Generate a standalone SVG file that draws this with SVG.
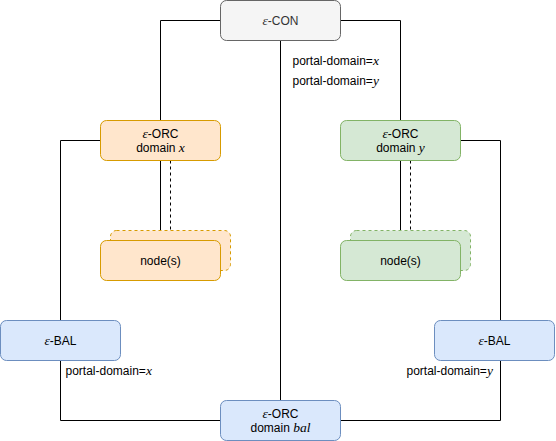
<svg xmlns="http://www.w3.org/2000/svg" width="556" height="441" viewBox="0 0 556 441">
<style>
.t{font-family:"Liberation Sans",Arial,sans-serif;font-size:12px;fill:#000}
.m{font-family:"Liberation Serif","DejaVu Serif",serif;font-style:italic;font-size:13.5px}
.c{text-anchor:middle}
.e{fill:none;stroke:#000;stroke-width:1}
.d{stroke-dasharray:3 3}
.orange{fill:#ffe6cc;stroke:#d79b00}
.green{fill:#d5e8d4;stroke:#82b366}
.blue{fill:#dae8fc;stroke:#6c8ebf}
.gray{fill:#f5f5f5;stroke:#666666}
</style>
<rect width="556" height="441" fill="#fff"/>
<g transform="translate(0.5,0.5)">
<g id="connectors">
<path class="e" d="M220 20H160V120"/>
<path class="e" d="M340 20H400V120"/>
<path class="e" d="M280 40V400"/>
<path class="e" d="M100 140H60V320"/>
<path class="e" d="M160 160V240"/>
<path class="e d" d="M170 160V230"/>
<path class="e" d="M400 160V240"/>
<path class="e d" d="M410 160V230"/>
<path class="e" d="M460 140H500V320"/>
<path class="e" d="M60 360V420H220"/>
<path class="e" d="M500 360V420H340"/>
<text class="t" x="292" y="64">portal-domain=<tspan class="m">x</tspan></text>
<text class="t" x="292" y="84">portal-domain=<tspan class="m">y</tspan></text>
<text class="t" x="65" y="374">portal-domain=<tspan class="m">x</tspan></text>
<text class="t" x="406" y="374">portal-domain=<tspan class="m">y</tspan></text>
</g>
<g id="con">
<rect class="gray" x="220" y="0" width="120" height="40" rx="6"/>
<text class="t c" x="280" y="24" style="fill:#333"><tspan class="m">ε</tspan>-CON</text>
</g>
<g id="orc-x">
<rect class="orange" x="100" y="120" width="120" height="40" rx="6"/>
<text class="t c" x="160" y="137"><tspan class="m">ε</tspan>-ORC</text>
<text class="t c" x="160" y="151">domain <tspan class="m">x</tspan></text>
</g>
<g id="nodes-x">
<rect class="orange d" x="110" y="230" width="120" height="40" rx="6"/>
<rect class="orange" x="100" y="240" width="120" height="40" rx="6"/>
<text class="t c" x="160" y="264">node(s)</text>
</g>
<g id="orc-y">
<rect class="green" x="340" y="120" width="120" height="40" rx="6"/>
<text class="t c" x="400" y="137"><tspan class="m">ε</tspan>-ORC</text>
<text class="t c" x="400" y="151">domain <tspan class="m">y</tspan></text>
</g>
<g id="nodes-y">
<rect class="green d" x="350" y="230" width="120" height="40" rx="6"/>
<rect class="green" x="340" y="240" width="120" height="40" rx="6"/>
<text class="t c" x="400" y="264">node(s)</text>
</g>
<g id="bal-x">
<rect class="blue" x="0" y="320" width="120" height="40" rx="6"/>
<text class="t c" x="60" y="344"><tspan class="m">ε</tspan>-BAL</text>
</g>
<g id="bal-y">
<rect class="blue" x="434" y="320" width="120" height="40" rx="6"/>
<text class="t c" x="494" y="344"><tspan class="m">ε</tspan>-BAL</text>
</g>
<g id="orc-bal">
<rect class="blue" x="220" y="400" width="120" height="40" rx="6"/>
<text class="t c" x="280" y="417"><tspan class="m">ε</tspan>-ORC</text>
<text class="t c" x="280" y="431">domain <tspan class="m">bal</tspan></text>
</g>
</g>
</svg>
